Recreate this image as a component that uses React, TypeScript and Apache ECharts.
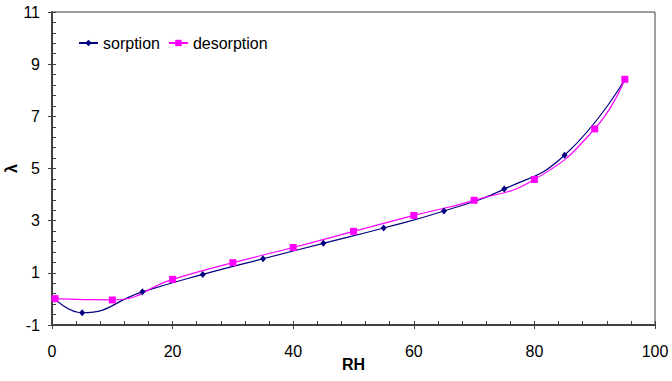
import React, { useEffect, useRef } from "react";
import * as echarts from "echarts";

const sorptionRH = [0.5, 5, 15, 25, 35, 45, 55, 65, 75, 85, 95];
const sorptionL = [0.0, -0.53, 0.27, 0.94, 1.54, 2.13, 2.72, 3.37, 4.21, 5.51, 8.42];
const desorptionRH = [0.5, 10, 20, 30, 40, 50, 60, 70, 80, 90, 95];
const desorptionL = [0.01, -0.04, 0.75, 1.39, 1.97, 2.59, 3.2, 3.78, 4.58, 6.52, 8.42];

const FONT = "'Liberation Sans', Arial, sans-serif";
const AXIS_COLOR = "#404040";

export default function App() {
  const ref = useRef<HTMLDivElement>(null);
  useEffect(() => {
    if (!ref.current) return;
    const chart = echarts.init(ref.current, undefined, { renderer: "svg" });
    const pairs = (xs: number[], ys: number[]) => xs.map((x, i) => [x, ys[i]]);
    chart.setOption({
      animation: false,
      textStyle: { fontFamily: FONT },
      grid: {
        left: 52,
        right: 17,
        top: 12,
        bottom: 56,
        show: true,
        borderColor: AXIS_COLOR,
        borderWidth: 1,
        containLabel: false,
        outerBoundsMode: "none",
      },
      legend: {
        left: 73,
        top: 30,
        itemWidth: 19,
        itemHeight: 8,
        itemGap: 8,
        textStyle: { fontSize: 16, color: "#000", fontFamily: FONT },
        data: ["sorption", "desorption"],
      },
      xAxis: [
        {
          type: "value",
          min: 0,
          max: 100,
          interval: 20,
          position: "bottom",
          name: "RH",
          nameLocation: "middle",
          nameGap: 31,
          nameMoveOverlap: false,
          nameTextStyle: { fontSize: 16, fontWeight: "bold", color: "#000", fontFamily: FONT },
          axisLine: { onZero: false, lineStyle: { color: AXIS_COLOR, width: 2 } },
          axisTick: { show: true, length: 4, lineStyle: { color: AXIS_COLOR } },
          axisLabel: { fontSize: 16, color: "#000", margin: 18, fontFamily: FONT },
          splitLine: { show: false },
        },
        {
          type: "value",
          min: 0,
          max: 100,
          interval: 20,
          position: "bottom",
          axisLine: { show: false, onZero: false },
          axisTick: { show: true, inside: true, length: 4, lineStyle: { color: AXIS_COLOR } },
          minorTick: { show: true, splitNumber: 5, length: 4, lineStyle: { color: AXIS_COLOR } },
          axisLabel: { show: false },
          splitLine: { show: false },
        },
      ],
      yAxis: [
        {
          type: "value",
          min: -1,
          max: 11,
          interval: 2,
          position: "left",
          name: "λ",
          nameLocation: "middle",
          nameRotate: 90,
          nameGap: 33,
          nameMoveOverlap: false,
          nameTextStyle: { fontSize: 16, fontWeight: "bold", color: "#000", fontFamily: FONT },
          axisLine: { onZero: false, lineStyle: { color: AXIS_COLOR, width: 2 } },
          axisTick: { show: true, length: 4, lineStyle: { color: AXIS_COLOR } },
          axisLabel: { fontSize: 16, color: "#000", margin: 12, fontFamily: FONT },
          splitLine: { show: false },
        },
        {
          type: "value",
          min: -1,
          max: 11,
          interval: 2,
          position: "left",
          axisLine: { show: false, onZero: false },
          axisTick: { show: true, inside: true, length: 4, lineStyle: { color: AXIS_COLOR } },
          minorTick: { show: true, splitNumber: 5, length: 4, lineStyle: { color: AXIS_COLOR } },
          axisLabel: { show: false },
          splitLine: { show: false },
        },
      ],
      series: [
        {
          name: "sorption",
          type: "line",
          xAxisIndex: 0,
          yAxisIndex: 0,
          data: pairs(sorptionRH, sorptionL),
          smooth: 0.5,
          symbol: "diamond",
          symbolSize: [6, 7],
          color: "#000080",
          itemStyle: { color: "#000080" },
          lineStyle: { color: "#000080", width: 1.2 },
        },
        {
          name: "desorption",
          type: "line",
          xAxisIndex: 0,
          yAxisIndex: 0,
          data: pairs(desorptionRH, desorptionL),
          smooth: 0.5,
          symbol: "rect",
          symbolSize: 7,
          color: "#FF00FF",
          itemStyle: { color: "#FF00FF" },
          lineStyle: { color: "#FF00FF", width: 1.2 },
        },
      ],
    });
    return () => chart.dispose();
  }, []);
  return (
    <div
      ref={ref}
      style={{ position: "fixed", left: 0, top: 0, width: 672, height: 381, background: "#fff" }}
    />
  );
}
